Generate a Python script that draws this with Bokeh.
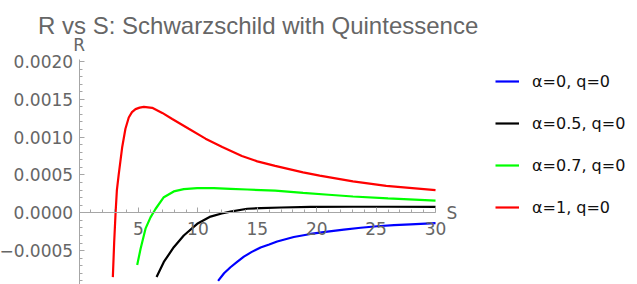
from bokeh.plotting import figure
from bokeh.models import FixedTicker, Legend, LegendItem, Label, Range1d, NumeralTickFormatter
from bokeh.embed import file_html
from bokeh.resources import INLINE

# alpha = 0, q = 0 (blue)
s_a0 = [11.7, 12.2, 12.74, 13.3, 13.87, 14.5, 15.27, 16.0, 16.67, 18.07, 19.48, 20.9, 22.28, 23.7,
        25.09, 26.5, 27.9, 30.0]
r_a0 = [-0.0009, -0.0008, -0.00072, -0.00065, -0.00058, -0.00052, -0.00046, -0.00042, -0.00038,
        -0.00032, -0.00028, -0.00025, -0.000222, -0.000198, -0.000178, -0.000164, -0.000152, -0.000137]

# alpha = 0.5, q = 0 (black)
s_a05 = [6.52, 7.13, 7.97, 8.81, 9.94, 11.06, 12.0, 12.74, 14.15, 15.27, 17.0, 19.48, 23.0, 26.0, 30.0]
r_a05 = [-0.00085, -0.00065, -0.000455, -0.0003, -0.000146, -0.00005, -0.00001, 0.000015, 0.000053,
         0.000062, 0.00007, 0.000077, 0.00008, 0.00008, 0.000078]

# alpha = 0.7, q = 0 (green)
s_a07 = [4.89, 5.17, 5.59, 6.01, 6.43, 7.13, 7.97, 8.81, 9.94, 11.34, 12.74, 14.15, 16.5, 18.85,
         21.0, 23.05, 26.0, 30.0]
r_a07 = [-0.00069, -0.00048, -0.00021, -0.00006, 0.00005, 0.000206, 0.000282, 0.000312, 0.000325,
         0.000325, 0.000317, 0.000308, 0.000292, 0.000262, 0.000238, 0.000215, 0.00019, 0.00016]

# alpha = 1, q = 0 (red)
s_a1 = [2.84, 2.95, 3.07, 3.18, 3.33, 3.63, 3.9, 4.18, 4.45, 4.75, 5.1, 5.45, 6.15, 7.0, 7.84, 9.23,
        10.64, 12.05, 13.7, 15.0, 16.5, 18.85, 20.25, 23.05, 25.85, 30.0]
r_a1 = [-0.00085, -0.0004, 0.0, 0.0003, 0.0005, 0.00087, 0.00111, 0.00126, 0.00133, 0.00137, 0.00139,
        0.0014, 0.001387, 0.00132, 0.00124, 0.00111, 0.00098, 0.00087, 0.00075, 0.00068, 0.00062,
        0.000535, 0.000492, 0.000415, 0.000355, 0.0003]

x_ticks = [5, 10, 15, 20, 25, 30]
x_minor = list(range(0, 31))
y_ticks = [-0.0005, 0.0, 0.0005, 0.001, 0.0015, 0.002]
y_tick_labels = ["\u22120.0005", "0.0000", "0.0005", "0.0010", "0.0015", "0.0020"]
y_minor = [round(-0.0009 + 0.0001 * i, 4) for i in range(30)]

series_labels = ["\u03b1=0, q=0", "\u03b1=0.5, q=0", "\u03b1=0.7, q=0", "\u03b1=1, q=0"]
series_colors = ["#0000ff", "#000000", "#00ff00", "#ff0000"]

GRAY = "#666666"
AXIS = "#a6a6a6"
Y_BOTTOM = -0.000948
Y_TOP = 0.002026

p = figure(width=637, height=284, output_backend="svg", toolbar_location=None,
           x_range=Range1d(-6.616, 47.0), y_range=Range1d(Y_BOTTOM, 0.002806),
           min_border_left=0, min_border_right=0, min_border_bottom=0, min_border_top=0)
p.outline_line_color = None
p.grid.visible = False
p.background_fill_color = "white"
p.border_fill_color = "white"

xa = p.xaxis[0]
xa.fixed_location = 0
xa.bounds = (0, 30)
xa.ticker = FixedTicker(ticks=x_ticks, minor_ticks=x_minor)
xa.major_tick_in = 5
xa.major_tick_out = 0
xa.minor_tick_in = 3
xa.minor_tick_out = 0
xa.axis_line_color = AXIS
xa.major_tick_line_color = AXIS
xa.minor_tick_line_color = AXIS
xa.major_label_text_font = "DejaVu Sans"
xa.major_label_text_font_size = "17px"
xa.major_label_text_color = GRAY
xa.major_label_standoff = 9

ya = p.yaxis[0]
ya.fixed_location = 0
ya.bounds = (Y_BOTTOM, Y_TOP)
ya.ticker = FixedTicker(ticks=y_ticks, minor_ticks=y_minor)
ya.formatter = NumeralTickFormatter(format="0.0000")
ya.major_label_overrides = dict(zip(y_ticks, y_tick_labels))
ya.major_tick_in = 5
ya.major_tick_out = 0
ya.minor_tick_in = 3
ya.minor_tick_out = 0
ya.axis_line_color = AXIS
ya.major_tick_line_color = AXIS
ya.minor_tick_line_color = AXIS
ya.major_label_text_font = "DejaVu Sans"
ya.major_label_text_font_size = "17px"
ya.major_label_text_color = GRAY
ya.major_label_standoff = 6

renderers = []
for s_vals, r_vals, col in zip([s_a0, s_a05, s_a07, s_a1], [r_a0, r_a05, r_a07, r_a1], series_colors):
    renderers.append(p.line(s_vals, r_vals, line_color=col, line_width=2.2))

legend = Legend(items=[LegendItem(label=lab, renderers=[r]) for lab, r in zip(series_labels, renderers)],
                location=(495, 67))
legend.border_line_color = None
legend.background_fill_alpha = 0
legend.padding = 0
legend.margin = 0
legend.spacing = 22
legend.glyph_width = 24
legend.glyph_height = 20
legend.label_height = 20
legend.label_standoff = 13
legend.label_text_font = "DejaVu Sans"
legend.label_text_font_size = "16px"
legend.label_text_color = "#111111"
p.add_layout(legend)

# plot title
p.add_layout(Label(x=0, y=Y_TOP, x_offset=-41, y_offset=34,
                   text="R vs S: Schwarzschild with Quintessence", text_align="left",
                   text_baseline="alphabetic", text_font="Liberation Sans",
                   text_font_size="24px", text_color=GRAY))
# axis labels
p.add_layout(Label(x=0, y=Y_TOP, y_offset=15, text="R", text_align="center",
                   text_baseline="alphabetic", text_font="DejaVu Sans", text_font_size="17px",
                   text_color=GRAY))
p.add_layout(Label(x=30, y=0, x_offset=11, y_offset=0, text="S", text_align="left",
                   text_baseline="middle", text_font="DejaVu Sans", text_font_size="17px",
                   text_color=GRAY))

open("out.html", "w").write(file_html(p, INLINE))
